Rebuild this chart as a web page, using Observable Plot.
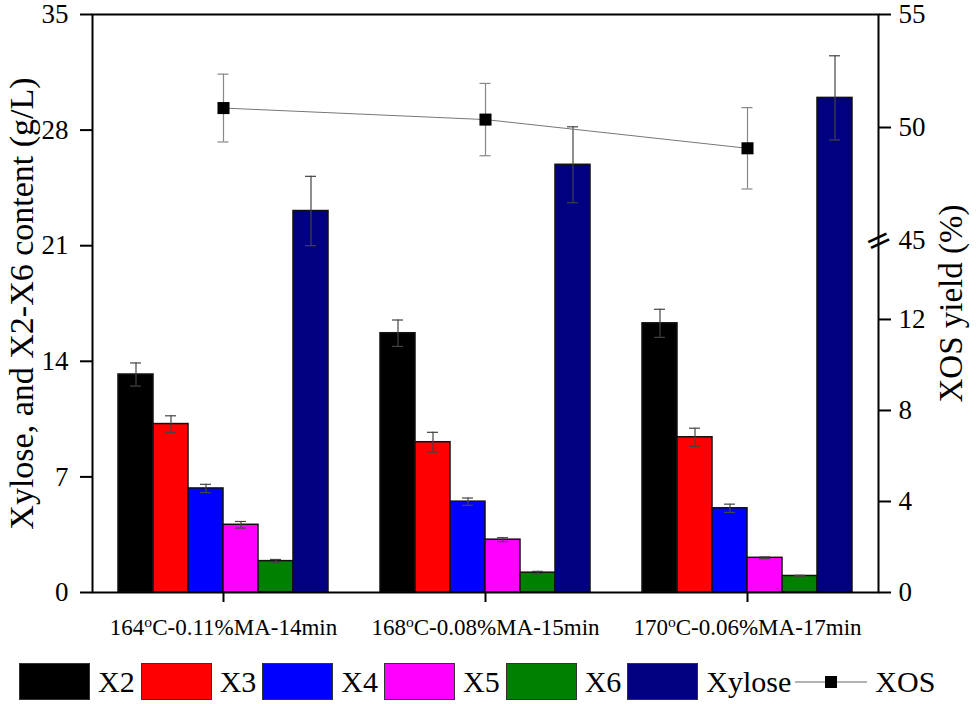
<!DOCTYPE html>
<html><head><meta charset="utf-8">
<script src="https://cdn.jsdelivr.net/npm/d3@7"></script>
<script src="https://cdn.jsdelivr.net/npm/@observablehq/plot@0.6"></script>
<style>
body{margin:0;background:#fff;font-family:"Liberation Serif","Times New Roman",serif;}
#wrap{position:relative;width:976px;height:650px;}
#wrap svg{position:absolute;left:0;top:0;}
#legend{display:flex;align-items:center;padding-top:13px;padding-left:19px;font-size:30px;color:#000;}
.item{display:flex;align-items:center;margin-right:6px;}
.sw{display:inline-block;width:69px;height:35px;border:1px solid #333;}
.lbl{margin-left:8px;line-height:37px;}
</style></head><body>
<div id="wrap"></div>
<div id="legend"></div>
<script>
// ---- data ----
const groups = ["164°C-0.11%MA-14min", "168°C-0.08%MA-15min", "170°C-0.06%MA-17min"];
const series = ["X2", "X3", "X4", "X5", "X6", "Xylose"];
const colors = ["#000000", "#ff0000", "#0000ff", "#ff00ff", "#008000", "#000080"];
const X2 = [13.2, 15.7, 16.3];         const X2err = [0.7, 0.8, 0.85];
const X3 = [10.2, 9.1, 9.4];           const X3err = [0.5, 0.6, 0.55];
const X4 = [6.3, 5.5, 5.1];            const X4err = [0.25, 0.22, 0.25];
const X5 = [4.1, 3.2, 2.1];            const X5err = [0.2, 0.12, 0.05];
const X6 = [1.9, 1.2, 1.0];            const X6err = [0.1, 0.08, 0.04];
const Xylose = [23.1, 25.9, 29.95];    const XyloseErr = [2.1, 2.3, 2.55];
const XOS = [50.86, 50.35, 49.08];     const XOSerr = [1.5, 1.6, 1.8];
const leftTicks = [0, 7, 14, 21, 28, 35];
const rightTicks = [0, 4, 8, 12, 50, 55];
const rightBreakTick = [45];

// ---- tables ----
const valuesBySeries = [X2, X3, X4, X5, X6, Xylose];
const errsBySeries = [X2err, X3err, X4err, X5err, X6err, XyloseErr];
const table = [];
groups.forEach((g, gi) => series.forEach((s, si) => table.push({
  group: g, series: s, value: valuesBySeries[si][gi], err: errsBySeries[si][gi]
})));
const xos = groups.map((g, i) => ({group: g, value: XOS[i], err: XOSerr[i]}));

const W = 976, H = 650, mt = 14, mb = 58, ml = 92, mr = 98;
const font = "Liberation Serif";

const bars = Plot.plot({
  width: W, height: H, marginTop: mt, marginBottom: mb, marginLeft: ml, marginRight: mr,
  style: {fontFamily: font, background: "white"},
  fx: {domain: groups, padding: 0},
  x: {domain: series, paddingInner: 0, paddingOuter: 0.74, axis: null},
  y: {domain: [0, 35], axis: null},
  color: {domain: series, range: colors},
  marks: [
    Plot.barY(table, {fx: "group", x: "series", y: "value", fill: "series", stroke: "#111", strokeWidth: 1.5}),
    Plot.ruleX(table, {fx: "group", x: "series", y1: d => d.value - d.err, y2: d => d.value + d.err, stroke: "#444", strokeWidth: 1.2}),
    Plot.tickY(table, {fx: "group", x: "series", y: d => d.value + d.err, stroke: "#444", strokeWidth: 1.2, insetLeft: 12, insetRight: 12}),
    Plot.tickY(table, {fx: "group", x: "series", y: d => d.value - d.err, stroke: "#444", strokeWidth: 1.2, insetLeft: 12, insetRight: 12}),
    Plot.axisY({anchor: "left", ticks: leftTicks, tickSize: 12, tickPadding: 12, fontSize: 27, fontFamily: font, strokeWidth: 2, label: null}),
    Plot.axisFx({anchor: "bottom", tickSize: 10, tickPadding: 16, fontSize: 23, fontFamily: font, strokeWidth: 2, label: null})
  ]
});

const overlay = Plot.plot({
  width: W, height: H, marginTop: mt, marginBottom: mb, marginLeft: ml, marginRight: mr,
  style: {fontFamily: font, background: "transparent", pointerEvents: "none"},
  x: {type: "band", domain: groups, padding: 0, axis: null},
  y: {type: "linear", domain: [0, 15.47, 45, 55], range: [592, 240, 240, 14], axis: null},
  marks: [
    Plot.frame({stroke: "#000", strokeWidth: 2}),
    Plot.line(xos, {x: "group", y: "value", stroke: "#777", strokeWidth: 1}),
    Plot.ruleX(xos, {x: "group", y1: d => d.value - d.err, y2: d => d.value + d.err, stroke: "#888", strokeWidth: 1.2}),
    Plot.tickY(xos, {x: "group", y: d => d.value + d.err, stroke: "#888", strokeWidth: 1.2, insetLeft: 125.5, insetRight: 125.5}),
    Plot.tickY(xos, {x: "group", y: d => d.value - d.err, stroke: "#888", strokeWidth: 1.2, insetLeft: 125.5, insetRight: 125.5}),
    Plot.dot(xos, {x: "group", y: "value", symbol: "square", r: 6.8, fill: "#000"}),
    Plot.axisY({anchor: "right", ticks: rightTicks, tickSize: 12, tickPadding: 8, fontSize: 27, fontFamily: font, strokeWidth: 2, label: null}),
    Plot.axisY({anchor: "right", ticks: rightBreakTick, tickSize: 0, tickPadding: 20, fontSize: 27, fontFamily: font, label: null}),
    Plot.text(rightBreakTick, {y: d => d, frameAnchor: "right", text: () => "=", rotate: -25, fontSize: 32, fontFamily: "DejaVu Sans", textAnchor: "middle", lineAnchor: "middle", fill: "#000"}),
    Plot.text(["Xylose, and X2-X6 content (g/L)"], {text: d => d, frameAnchor: "left", dx: -70, rotate: -90, fontSize: 34, fontFamily: font, textAnchor: "middle", lineAnchor: "middle", fill: "#000"}),
    Plot.text(["XOS yield (%)"], {text: d => d, frameAnchor: "right", dx: 73, rotate: -90, fontSize: 33, fontFamily: font, textAnchor: "middle", lineAnchor: "middle", fill: "#000"})
  ]
});

document.getElementById("wrap").append(bars, overlay);

// superscript "o" in the condition labels
d3.select(bars).selectAll('g[aria-label="fx-axis tick label"] text').each(function() {
  const s = this.textContent;
  const i = s.indexOf("°");
  if (i < 0) return;
  const t = d3.select(this);
  t.text(null);
  t.append("tspan").text(s.slice(0, i));
  t.append("tspan").attr("font-size", "0.68em").attr("dy", "-0.5em").text("o");
  t.append("tspan").attr("dy", "0.34em").text(s.slice(i + 1));
});

// legend
const lg = d3.select("#legend");
series.forEach((s, i) => {
  const it = lg.append("div").attr("class", "item");
  it.append("span").attr("class", "sw").style("background", colors[i]);
  it.append("span").attr("class", "lbl").text(s);
});
const xi = lg.append("div").attr("class", "item");
const sv = xi.append("svg").attr("width", 72).attr("height", 20).style("margin-left", "-2px");
sv.append("line").attr("x1", 0).attr("x2", 72).attr("y1", 10).attr("y2", 10).attr("stroke", "#999").attr("stroke-width", 1.5);
sv.append("rect").attr("x", 30).attr("y", 4).attr("width", 12).attr("height", 12).attr("fill", "#000");
xi.append("span").attr("class", "lbl").text("XOS");
</script>
</body></html>
